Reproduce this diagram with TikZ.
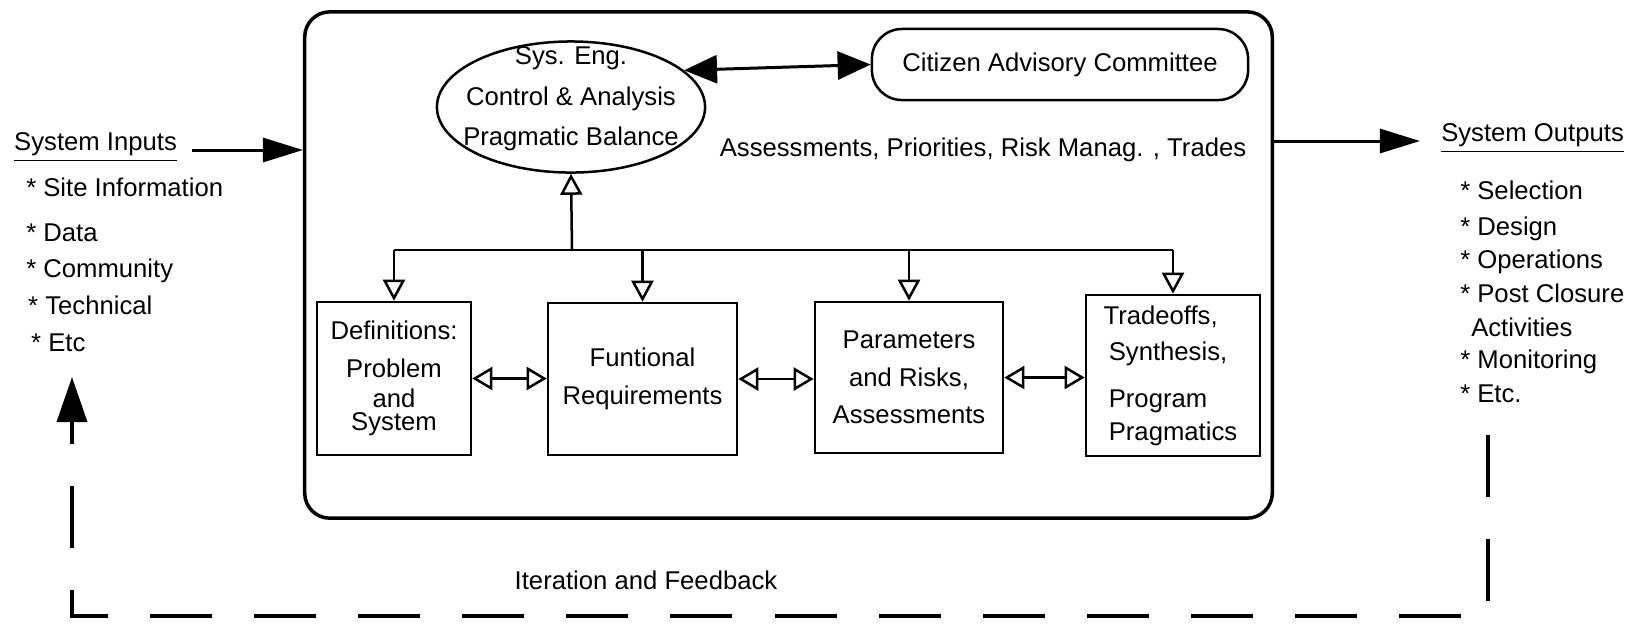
\documentclass[tikz,border=0pt]{standalone}
\usepackage{fontspec}
\setmainfont{Liberation Sans}
\usetikzlibrary{arrows.meta,shapes.geometric}

\begin{document}
\begin{tikzpicture}[x=0.01cm,y=-0.01cm,line width=0.025cm,
		every node/.style={font=\fontsize{7.3}{8.5}\selectfont,inner sep=0pt},
		stage/.style={draw,align=center},
		fillarrow/.style={line width=0.03cm,-{Triangle[length=0.4cm,width=0.24cm]}},
		dblfill/.style={line width=0.03cm,{Triangle[length=0.33cm,width=0.28cm]}-{Triangle[length=0.33cm,width=0.28cm]}},
		openarrow/.style={-{Triangle[open,length=0.21cm,width=0.22cm]}},
		dblopen/.style={{Triangle[open,length=0.2cm,width=0.23cm]}-{Triangle[open,length=0.2cm,width=0.23cm]}},
		fbline/.style={line width=0.035cm,dash pattern=on 0.62cm off 0.42cm,-{Triangle[length=0.45cm,width=0.3cm]}}]
	\useasboundingbox (0,0) rectangle (1649,626);

	\node[draw,line width=0.035cm,rounded corners=0.25cm,minimum width=9.67cm,minimum height=5.06cm] (sys) at (788.5,265) {};

	\node[ellipse,draw,minimum width=2.68cm,minimum height=1.31cm] (seng) at (571,107) {};
	\node[align=center,font=\fontsize{7.3}{11.5}\selectfont] (sengtxt) at (571,99) {Sys. Eng.\\Control \& Analysis\\Pragmatic Balance};
	\node[draw,rounded corners=0.3cm,minimum width=3.76cm,minimum height=0.71cm] (cac) at (1060,64.5) {Citizen Advisory Committee};
	\draw[dblfill] (seng.18) -- (cac.west);
	\node (apr) at (983,150) {Assessments, Priorities, Risk Manag. , Trades};

	\node[stage,minimum width=1.54cm,minimum height=1.53cm] (defs) at (394,378.5) {Definitions:\\[2.3pt]Problem\\and\\[-2pt]System};
	\node[stage,minimum width=1.89cm,minimum height=1.52cm,font=\fontsize{7.3}{10.8}\selectfont] (funreq) at (642.5,379) {Funtional\\Requirements};
	\node[stage,minimum width=1.88cm,minimum height=1.51cm,font=\fontsize{7.3}{10.7}\selectfont] (params) at (909,377.5) {Parameters\\and Risks,\\Assessments};
	\node[stage,align=left,minimum width=1.74cm,minimum height=1.61cm,font=\fontsize{7.3}{10.2}\selectfont] (trades) at (1173,375.5) {\hspace{-1.5pt}Tradeoffs,\\Synthesis,\\[3.2pt]Program\\[-0.8pt]Pragmatics};

	\coordinate (bus) at (572,250);
	\draw[openarrow] (bus) -- (seng.south);
	\draw (defs.north |- bus) -- (trades.north |- bus);
	\foreach \b in {defs,funreq,params,trades}
		\draw[openarrow] (\b.north |- bus) -- (\b.north);
	\draw[dblopen] (defs.east) -- (funreq.west |- defs.east);
	\draw[dblopen] (funreq.east) -- (params.west |- funreq.east);
	\draw[dblopen] (params.east) -- (trades.west |- params.east);

	\node[anchor=base west] (inputs) at (13,150) {\underline{System Inputs}};
	\draw[fillarrow] ([xshift=0.14cm]inputs.base east) -- (sys.west |- inputs.base east);
	\foreach \i/\x/\y/\t in {1/25/196/Site Information,2/25/241/Data,3/25/277/Community,4/27/314/Technical,5/30/351/Etc}
		\node[anchor=base west] (in\i) at (\x,\y) {* \t};

	\node[anchor=base west] (outputs) at (1440,141) {\underline{System Outputs}};
	\draw[fillarrow] (sys.east |- outputs.base west) -- ([xshift=-0.2cm]outputs.base west);
	\foreach \i/\x/\y/\t in {1/1459/199/* Selection,2/1459/235/* Design,3/1459/268/* Operations,4/1459/302/* Post Closure,5/1470/336/Activities,6/1459/368/* Monitoring,7/1459/402/* Etc.}
		\node[anchor=base west] (out\i) at (\x,\y) {\t};

	\coordinate (fbtop) at (1488,435);
	\coordinate (fbcorner) at (72,616);
	\coordinate (fbend) at (72,377);
	\draw[fbline] (fbtop) |- (fbcorner) -- (fbend);
	\node (iter) at (646,580) {Iteration and Feedback};
\end{tikzpicture}
\end{document}
